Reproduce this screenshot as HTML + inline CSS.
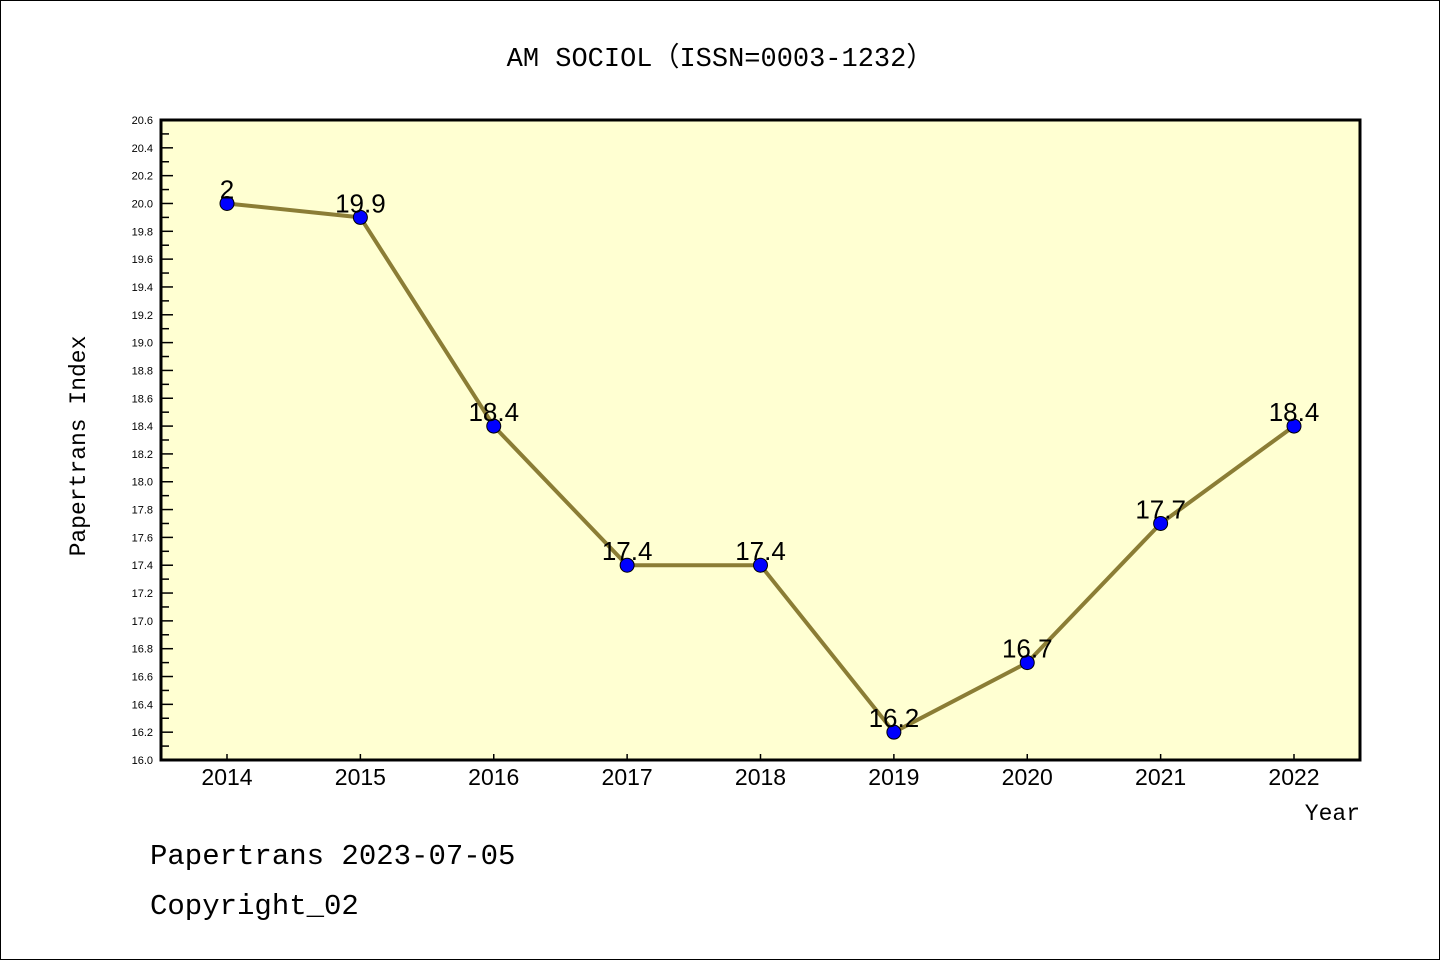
<!DOCTYPE html>
<html><head><meta charset="utf-8"><style>
body{margin:0;background:#fff}
svg{display:block}
text{font-family:"Liberation Sans","Noto Sans CJK SC",sans-serif;fill:#000}
.mono{font-family:"Liberation Mono","Noto Sans CJK SC",monospace}
</style></head><body>
<svg id="chart" width="1440" height="960" xmlns="http://www.w3.org/2000/svg">
<rect x="0.5" y="0.5" width="1439" height="959" fill="#fff" stroke="#000"/>
<text class="mono" x="720" y="66" font-size="27" text-anchor="middle">AM SOCIOL（ISSN=0003-1232）</text>
<rect x="161" y="120" width="1199" height="640" fill="#ffffd2"/>
<g id="axes"></g>
<g id="series"></g>
<rect x="161" y="120" width="1199" height="640" fill="none" stroke="#000" stroke-width="3"/>
<text class="mono" x="85" y="446" font-size="23" text-anchor="middle" transform="rotate(-90 85 446)">Papertrans Index</text>
<text class="mono" x="1360" y="820" font-size="23" text-anchor="end">Year</text>
<text class="mono" x="150" y="864" font-size="29">Papertrans 2023-07-05</text>
<text class="mono" x="150" y="914" font-size="29">Copyright_02</text>
</svg>
<script>
const years = [2014,2015,2016,2017,2018,2019,2020,2021,2022];
const values = [20.0,19.9,18.4,17.4,17.4,16.2,16.7,17.7,18.4];
const valueLabels = ["2","19.9","18.4","17.4","17.4","16.2","16.7","17.7","18.4"];
const yMin = 16.0, yMax = 20.6;
const NS = "http://www.w3.org/2000/svg";
function xScale(i){ return 227 + i * (1294-227)/(years.length-1); }
function yScale(v){ return 760 - (v - yMin)/(yMax - yMin) * 640; }
function mk(tag, attrs, parent){ const e=document.createElementNS(NS,tag); for(const k in attrs) e.setAttribute(k,attrs[k]); parent.appendChild(e); return e; }
const axes=document.getElementById('axes'), series=document.getElementById('series');
for(let k=0;k<=46;k++){
  const v=yMin+k*0.1, y=yScale(v), major=k%2===0;
  const t=mk('line',{x1:161,x2:major?173:169,y1:y,y2:y,stroke:'#000','stroke-width':1.5},axes);
  
  
  if(major){
    const l=mk('text',{x:153,y:y+4,'font-size':11,'text-anchor':'end'},axes);
    l.textContent=v.toFixed(1);
    
    
  }
}
years.forEach((yr,i)=>{
  const x=xScale(i);
  const t=mk('line',{x1:x,x2:x,y1:760,y2:754,stroke:'#000','stroke-width':1.5},axes);
  
  
  const l=mk('text',{x:x,y:785,'font-size':23,'text-anchor':'middle'},axes);
  l.textContent=yr;
  
  
});
const pts=values.map((v,i)=>xScale(i)+','+yScale(v)).join(' ');
const line=mk('polyline',{points:pts,fill:'none',stroke:'#8b7d35','stroke-width':4,'stroke-linejoin':'round'},series);


values.forEach((v,i)=>{
  const c=mk('circle',{cx:xScale(i),cy:yScale(v),r:7,fill:'#0000ff',stroke:'#000','stroke-width':1},series);
  
  
  const l=mk('text',{x:xScale(i),y:yScale(v)-5,'font-size':26,'text-anchor':'middle'},series);
  l.textContent=valueLabels[i];
  
  
});
</script>
</body></html>
